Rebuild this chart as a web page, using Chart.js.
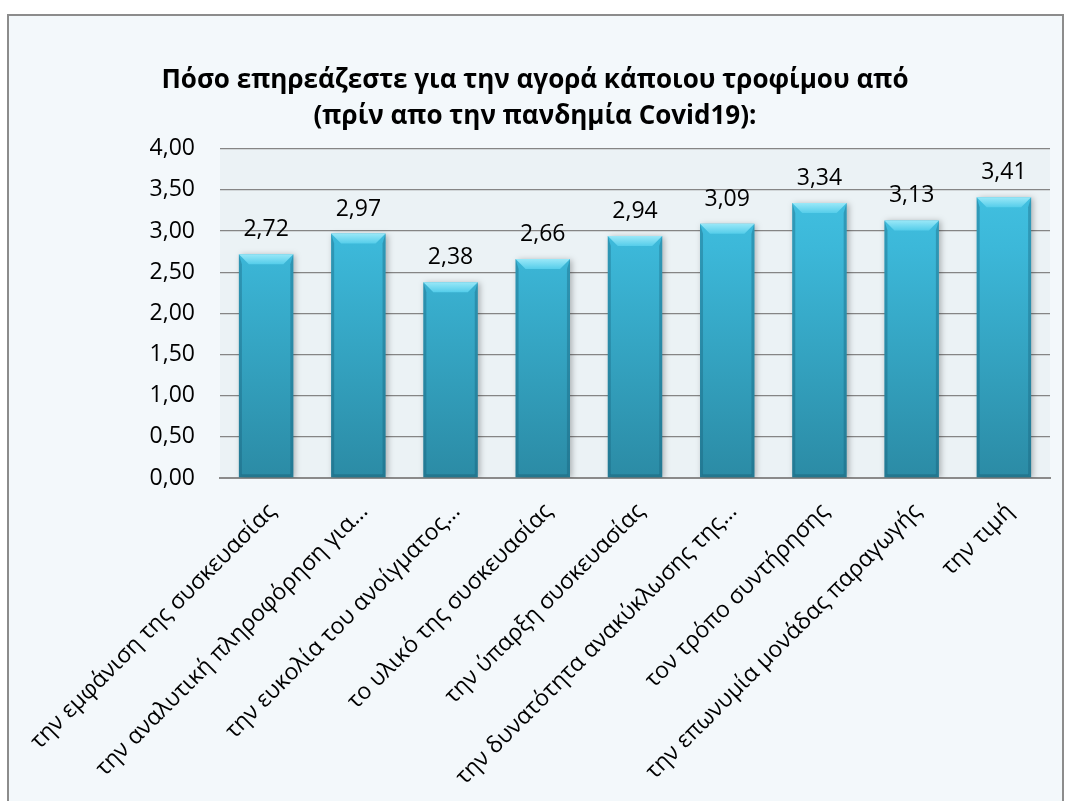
<!DOCTYPE html>
<html lang="el">
<head>
<meta charset="utf-8">
<title>Πόσο επηρεάζεστε για την αγορά κάποιου τροφίμου από</title>
<script src="https://cdn.jsdelivr.net/npm/chart.js@4.4.1/dist/chart.umd.min.js"></script>
<style>
  html, body { margin: 0; padding: 0; background: #ffffff; }
  #wrap { width: 1071px; height: 801px; position: relative; }
  canvas { display: block; }
</style>
</head>
<body>
<div id="wrap"><canvas id="chart" width="1071" height="801"></canvas></div>
<script>
// Survey categories (x axis)
const categories = [
  'την εμφάνιση της συσκευασίας',
  'την αναλυτική πληροφόρηση για…',
  'την ευκολία του ανοίγματος…',
  'το υλικό της συσκευασίας',
  'την ύπαρξη συσκευασίας',
  'την δυνατότητα ανακύκλωσης της…',
  'τον τρόπο συντήρησης',
  'την επωνυμία μονάδας παραγωγής',
  'την τιμή'
];

// Mean score per category
const scores = [2.72, 2.97, 2.38, 2.66, 2.94, 3.09, 3.34, 3.13, 3.41];

// Y axis range and step
const yMin = 0;
const yMax = 4;
const yStep = 0.5;

const titleLines = [
  'Πόσο επηρεάζεστε για την αγορά κάποιου τροφίμου από',
  '(πρίν απο την πανδημία Covid19):'
];

const fmt = v => v.toFixed(2).replace('.', ',');

const LABEL_FONT = '"Open Sans"';

// Page frame and plot-area background
const framePlugin = {
  id: 'frame',
  beforeDraw(chart) {
    const { ctx, chartArea: a } = chart;
    ctx.save();
    ctx.fillStyle = '#ffffff';
    ctx.fillRect(0, 0, chart.width, chart.height);
    ctx.fillStyle = '#f3f8fb';
    ctx.fillRect(8, 15, 1055, chart.height - 15);
    ctx.strokeStyle = '#8c8c8c';
    ctx.lineWidth = 2;
    ctx.beginPath();
    ctx.moveTo(8, chart.height + 2);
    ctx.lineTo(8, 15);
    ctx.lineTo(1063, 15);
    ctx.lineTo(1063, chart.height + 2);
    ctx.stroke();
    ctx.fillStyle = '#ebf2f5';
    ctx.fillRect(a.left, a.top, a.right - a.left, a.bottom - a.top);
    ctx.restore();
  }
};

// Soft drop shadow under the bars
const shadowPlugin = {
  id: 'barShadow',
  beforeDatasetsDraw(chart) {
    const ctx = chart.ctx;
    ctx.save();
    ctx.shadowColor = 'rgba(0,0,0,0.28)';
    ctx.shadowBlur = 6;
    ctx.shadowOffsetX = 2;
    ctx.shadowOffsetY = 1;
  },
  afterDatasetsDraw(chart) {
    chart.ctx.restore();
  }
};

// Bevelled top edge, darker sides and value labels
const bevelPlugin = {
  id: 'bevel',
  afterDatasetsDraw(chart) {
    const ctx = chart.ctx;
    const meta = chart.getDatasetMeta(0);
    meta.data.forEach((bar, i) => {
      const p = bar.getProps(['x', 'y', 'base', 'width'], true);
      const L = p.x - p.width / 2, R = p.x + p.width / 2, T = p.y, B = p.base;
      const b = 10;
      ctx.save();
      // top bevel
      const g = ctx.createLinearGradient(0, T, 0, T + b);
      g.addColorStop(0, '#9ae8f8');
      g.addColorStop(1, '#55cdea');
      ctx.fillStyle = g;
      ctx.beginPath();
      ctx.moveTo(L, T); ctx.lineTo(R, T); ctx.lineTo(R - b, T + b); ctx.lineTo(L + b, T + b);
      ctx.closePath(); ctx.fill();
      // sides
      ctx.fillStyle = 'rgba(20,90,115,0.35)';
      ctx.beginPath();
      ctx.moveTo(L, T); ctx.lineTo(L + 3, T + b); ctx.lineTo(L + 3, B - 3); ctx.lineTo(L, B);
      ctx.closePath(); ctx.fill();
      ctx.beginPath();
      ctx.moveTo(R, T); ctx.lineTo(R - 3, T + b); ctx.lineTo(R - 3, B - 3); ctx.lineTo(R, B);
      ctx.closePath(); ctx.fill();
      ctx.fillStyle = 'rgba(20,80,100,0.35)';
      ctx.beginPath();
      ctx.moveTo(L, B); ctx.lineTo(L + 3, B - 3); ctx.lineTo(R - 3, B - 3); ctx.lineTo(R, B);
      ctx.closePath(); ctx.fill();
      // value label
      ctx.fillStyle = '#000000';
      ctx.font = '23px ' + LABEL_FONT;
      ctx.textAlign = 'center';
      ctx.textBaseline = 'alphabetic';
      ctx.fillText(fmt(scores[i]), p.x, T - 18);
      ctx.restore();
    });
  }
};

const ctx = document.getElementById('chart').getContext('2d');
new Chart(ctx, {
  type: 'bar',
  data: {
    labels: categories,
    datasets: [{
      data: scores,
      backgroundColor(c) {
        const a = c.chart.chartArea;
        if (!a) return '#36a9c8';
        const g = c.chart.ctx.createLinearGradient(0, a.top, 0, a.bottom);
        g.addColorStop(0, '#45c6e6');
        g.addColorStop(0.3, '#3cb8d9');
        g.addColorStop(1, '#2b8ba5');
        return g;
      },
      borderWidth: 0,
      categoryPercentage: 1,
      barPercentage: 0.59
    }]
  },
  options: {
    responsive: false,
    animation: false,
    devicePixelRatio: 1,
    layout: { padding: { top: 50, left: 20, right: 21, bottom: 0 } },
    plugins: {
      legend: { display: false },
      tooltip: { enabled: false },
      title: {
        display: true,
        text: titleLines,
        color: '#000000',
        font: { family: '"Open Sans"', size: 26, weight: 'bold', lineHeight: 1.4 },
        padding: { top: 12, bottom: 14 }
      }
    },
    scales: {
      y: {
        min: yMin,
        max: yMax,
        ticks: {
          stepSize: yStep,
          padding: 25,
          color: '#000000',
          font: { family: LABEL_FONT, size: 23 },
          callback: v => fmt(v)
        },
        grid: { color: '#858585', lineWidth: 1.3, drawTicks: false },
        border: { display: false },
        afterFit(s) { s.width = 200; }
      },
      x: {
        ticks: {
          maxRotation: 45,
          minRotation: 45,
          autoSkip: false,
          padding: 20,
          labelOffset: 6,
          color: '#000000',
          font: { family: LABEL_FONT, size: 23 }
        },
        grid: { display: false, drawTicks: false },
        border: { display: true, color: '#8a8a8a', width: 2 },
        afterFit(s) {
          s.height = 801 - 478;
          s.paddingLeft = 0;
          s.paddingRight = 0;
        }
      }
    }
  },
  plugins: [framePlugin, shadowPlugin, bevelPlugin]
});
</script>
</body>
</html>
